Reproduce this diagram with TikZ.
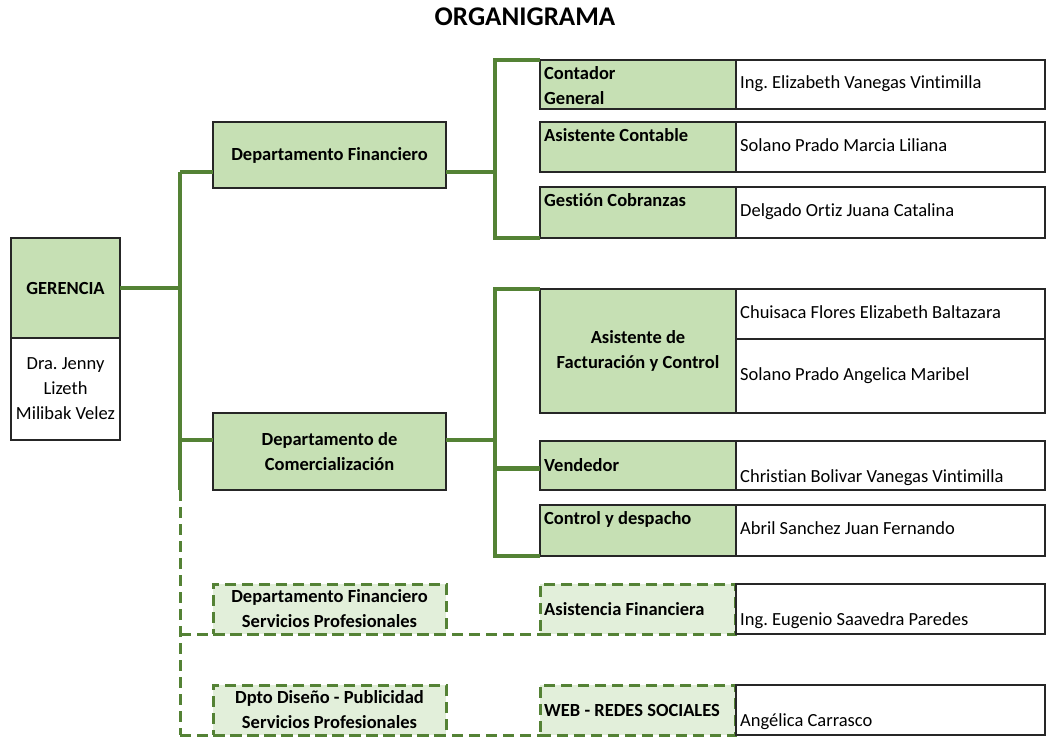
\documentclass[tikz,border=0pt]{standalone}
\usepackage{fontspec}
\setmainfont{Carlito}[Ligatures=NoCommon]
\usetikzlibrary{positioning}
\definecolor{verdeOsc}{HTML}{548235}
\definecolor{verdeCel}{HTML}{C6E0B4}
\definecolor{verdeTen}{HTML}{E2EFDA}
\frenchspacing
\begin{document}
\begin{tikzpicture}[x=1pt,y=-1pt,
    font=\fontsize{18.5}{25}\selectfont,
    caja/.style={draw=black!85,line width=1.7pt,fill=verdeCel,inner sep=0pt,outer sep=0pt,
      anchor=north west,align=center,font=\fontsize{18.5}{25}\selectfont\bfseries},
    blanca/.style={caja,fill=white,font=\fontsize{18.5}{25}\selectfont},
    punt/.style={caja,draw=verdeOsc,fill=verdeTen,line width=3pt,dash pattern=on 11pt off 6pt},
    rama/.style={draw=verdeOsc,line width=4.6pt},
    ramap/.style={rama,line width=3pt,dash pattern=on 11pt off 6pt},
    rol/.style={font=\fontsize{18.5}{25}\selectfont\bfseries,align=left,anchor=north west,inner sep=0pt},
    nombre/.style={anchor=west,inner sep=0pt,text height=12pt,text depth=4pt},
  ]
  \useasboundingbox (0,0) rectangle (1049,749);
  \node[font=\fontsize{27}{30}\selectfont\bfseries] (titulo) at (525,17) {ORGANIGRAMA};

  % gerencia
  \node[caja,minimum width=109pt,minimum height=100pt] (ger) at (11,238) {GERENCIA};
  \node[blanca,minimum width=109pt,minimum height=102pt] (gerp) at (11,338) {Dra. Jenny\\Lizeth\\Milibak Velez};

  % departamentos
  \node[caja,minimum width=233pt,minimum height=66pt] (dfin) at (213,122) {Departamento Financiero};
  \node[caja,minimum width=233pt,minimum height=77pt] (dcom) at (213,413) {Departamento de\\Comercialización};
  \node[punt,minimum width=233pt,minimum height=50pt] (dfsp) at (213,584) {Departamento Financiero\\Servicios Profesionales};
  \node[punt,minimum width=233pt,minimum height=50pt] (dds) at (213,685) {Dpto Diseño - Publicidad\\Servicios Profesionales};

  % cargos financiero
  \foreach \id/\y/\h/\rol/\per in {cg/60/49/{Contador\\General}/Ing. Elizabeth Vanegas Vintimilla,
      ac/122/50/Asistente Contable/Solano Prado Marcia Liliana,
      gc/187/51/Gestión Cobranzas/Delgado Ortiz Juana Catalina}{
    \node[caja,minimum width=196pt,minimum height=\h pt] (\id) at (540,\y) {};
    \node[blanca,minimum width=309pt,minimum height=\h pt,anchor=west,right=0pt of \id] (\id p) {};
    \node[rol] at ([xshift=4pt,yshift=-6.5pt]\id.north west) {\rol};
    \node[nombre] at ([xshift=4pt]\id p.west) {\per};
  }

  % cargos comercializacion
  \node[caja,minimum width=196pt,minimum height=124pt] (afc) at (540,289) {Asistente de\\Facturación y Control};
  \node[blanca,minimum width=309pt,minimum height=50pt] (chp) at (736,289) {};
  \node[blanca,minimum width=309pt,minimum height=74pt,anchor=north,below=0pt of chp] (spp) {};
  \node[nombre] at ([xshift=4pt]chp.west) {Chuisaca Flores Elizabeth Baltazara};
  \node[nombre] at ([xshift=4pt]spp.west) {Solano Prado Angelica Maribel};

  \node[caja,minimum width=196pt,minimum height=49pt] (vend) at (540,441) {};
  \node[blanca,minimum width=309pt,minimum height=49pt,anchor=west,right=0pt of vend] (vendp) {};
  \node[rol,anchor=west] at ([xshift=4pt]vend.west) {Vendedor};
  \node[nombre,anchor=base west] at ([xshift=4pt,yshift=8pt]vendp.south west) {Christian Bolivar Vanegas Vintimilla};

  \node[caja,minimum width=196pt,minimum height=51pt] (cd) at (540,505) {};
  \node[blanca,minimum width=309pt,minimum height=51pt,anchor=west,right=0pt of cd] (cdp) {};
  \node[rol] at ([xshift=4pt,yshift=-6.5pt]cd.north west) {Control y despacho};
  \node[nombre] at ([xshift=4pt]cdp.west) {Abril Sanchez Juan Fernando};

  % servicios profesionales
  \node[punt,minimum width=195pt,minimum height=50pt] (afin) at (540,584) {};
  \node[blanca,minimum width=309pt,minimum height=50pt] (afinp) at (736,584) {};
  \node[rol,anchor=west] at ([xshift=4pt]afin.west) {Asistencia Financiera};
  \node[nombre,anchor=base west] at ([xshift=4pt,yshift=9pt]afinp.south west) {Ing. Eugenio Saavedra Paredes};

  \node[punt,minimum width=195pt,minimum height=50pt] (web) at (540,685) {};
  \node[blanca,minimum width=309pt,minimum height=50pt] (webp) at (736,685) {};
  \node[rol,anchor=west] at ([xshift=4pt]web.west) {WEB - REDES SOCIALES};
  \node[nombre,anchor=base west] at ([xshift=4pt,yshift=9pt]webp.south west) {Angélica Carrasco};

  % lineas
  \coordinate (t1) at (180,172);
  \coordinate (t2) at (180,490);
  \coordinate (t3) at (180,735);
  \coordinate (t4) at (180,440);
  \coordinate (b1) at (495,0);
  \draw[rama] (t1) -- (t2);
  \draw[ramap] (t2) -- (t3);
  \draw[rama] (ger.east) -- (ger.east -| t1);
  \draw[rama] (t1) -- (t1 -| dfin.west);
  \draw[rama] (t1 -| dfin.east) -- (t1 -| b1);
  \draw[rama] (cg.north west) -- (cg.north west -| b1) -- (gc.south west -| b1) -- (gc.south west);
  \draw[rama] (t4) -- (t4 -| dcom.west);
  \draw[rama] (t4 -| dcom.east) -- (t4 -| b1);
  \draw[rama] (afc.north west) -- (afc.north west -| b1) -- (cd.south west -| b1) -- (cd.south west);
  \draw[rama] ([yshift=-3pt]vend.west) -- ([yshift=-3pt]vend.west -| b1);
  \draw[ramap] (dfsp.south west -| t2) -- (afin.south west);
  \draw[ramap] (dds.south west -| t2) -- (web.south west);
\end{tikzpicture}
\end{document}
